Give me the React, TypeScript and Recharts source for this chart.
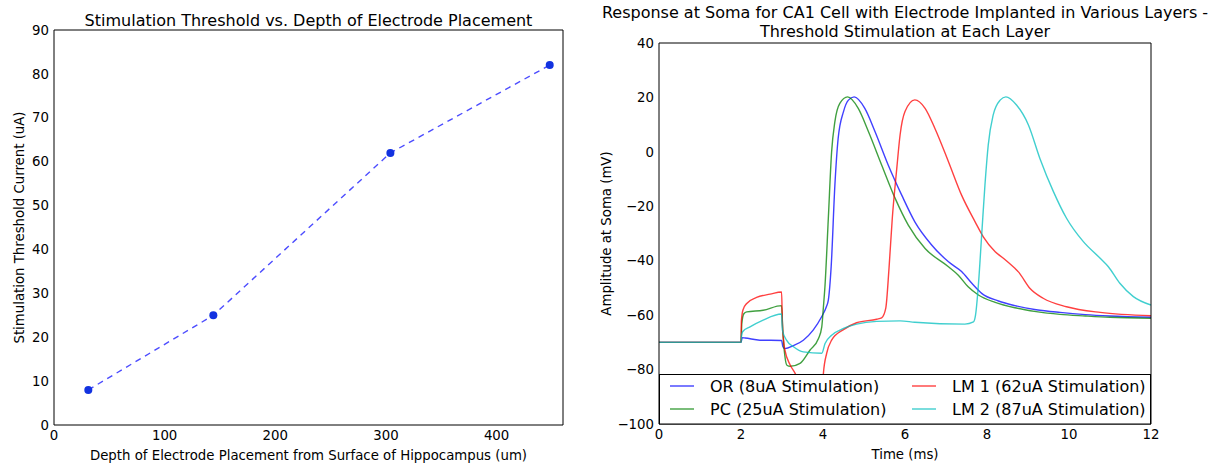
import { LineChart, Line, XAxis, YAxis } from "recharts";

// left panel: threshold vs depth
const depths = [31, 144, 304, 448];
const thresholds = [8, 25, 62, 82];
const depthTicks = [0, 100, 200, 300, 400];
const thresholdTicks = [0, 10, 20, 30, 40, 50, 60, 70, 80, 90];

// right panel: soma traces, [time ms, mV]
const orTrace = [
  [0, -70], [2, -70], [2.03, -68.3], [2.1, -68.4], [2.46, -69.2], [2.99, -69.3], [3.02, -71.5],
  [3.07, -72.3], [3.28, -71.2], [3.52, -69.2], [3.76, -65.5], [3.97, -60.5], [4.08, -57], [4.13, -54.5],
  [4.2, -42], [4.29, -12.2], [4.37, 5], [4.5, 14.8], [4.62, 19], [4.76, 20.2], [5.02, 16], [5.27, 7.4],
  [5.59, -4.8], [5.92, -15.9], [6.24, -25.7], [6.65, -34.2], [7.06, -40.4], [7.38, -44], [7.63, -48.3],
  [7.87, -52], [8.28, -54.8], [8.68, -56.5], [9.2, -58], [9.78, -59], [10.4, -59.8], [11, -60.3], [12, -60.8],
];
const pcTrace = [
  [0, -70], [2, -70], [2.02, -63], [2.07, -59.5], [2.14, -58.8], [2.54, -58.2], [2.99, -56.5], [3.02, -66],
  [3.07, -75], [3.12, -78.4], [3.2, -78.8], [3.44, -77.7], [3.68, -72.9], [3.89, -68.6], [3.97, -64.3],
  [4.01, -57], [4.05, -48.9], [4.13, -24.4], [4.21, 0], [4.29, 11.1], [4.41, 17.8], [4.6, 20.2], [4.86, 16],
  [5.11, 7.4], [5.43, -4.8], [5.76, -17.1], [6.08, -26.9], [6.49, -35.5], [7.06, -42.2], [7.3, -45.3],
  [7.54, -49.6], [7.79, -52.6], [8.2, -55.3], [8.68, -57.3], [9.2, -58.7], [9.78, -59.7], [10.4, -60.3],
  [11, -60.8], [12, -61.2],
];
const lm1Trace = [
  [0, -70], [2, -70], [2.01, -62], [2.05, -58], [2.14, -55.7], [2.38, -53.5], [2.71, -52.3], [2.99, -51.5],
  [3.01, -63], [3.07, -72.8], [3.2, -78.3], [3.32, -81.4], [3.5, -88], [3.7, -92], [3.9, -94], [3.97, -95],
  [4.01, -81.4], [4.09, -74], [4.21, -69.2], [4.5, -65.3], [4.82, -62.8], [5.31, -61.5], [5.43, -61],
  [5.53, -57.5], [5.61, -42.8], [5.69, -24.4], [5.8, -6], [5.88, 6.2], [6.0, 14.8], [6.24, 19.1], [6.49, 16],
  [6.73, 8.6], [7.06, -3.6], [7.38, -15.9], [7.71, -25.7], [7.91, -31.2], [8.2, -36.7], [8.4, -39.1],
  [8.68, -42.8], [8.76, -44], [9.05, -50.2], [9.37, -53.8], [9.94, -56.9], [10.76, -59], [12, -60.2],
];
const lm2Trace = [
  [0, -70], [2, -70], [2.01, -68], [2.04, -66.1], [2.22, -64.3], [2.54, -61.8], [2.99, -59.6], [3.01, -65.5],
  [3.11, -69.2], [3.28, -71.6], [3.52, -73.5], [3.97, -74], [4.05, -70.4], [4.21, -67.4], [4.5, -64.9],
  [4.82, -63.3], [5.31, -62.3], [5.88, -62.1], [6.24, -62.6], [7.46, -63.3], [7.67, -62.5], [7.72, -60],
  [7.79, -48.9], [7.87, -30.6], [7.95, -12.2], [8.03, 2.5], [8.15, 13.5], [8.32, 19], [8.46, 20.2],
  [8.72, 17.2], [9.01, 9.9], [9.29, -2.4], [9.62, -14.6], [9.94, -24.4], [10.35, -33], [10.76, -39.1],
  [10.96, -42.2], [11.24, -48.3], [11.57, -53.2], [12, -56.3],
];
const timeTicks = [0, 2, 4, 6, 8, 10, 12];
const ampTicks = [-100, -80, -60, -40, -20, 0, 20, 40];

const series = [
  { name: "OR (8uA Stimulation)", color: "#0000ff", trace: orTrace },
  { name: "PC (25uA Stimulation)", color: "#008000", trace: pcTrace },
  { name: "LM 1 (62uA Stimulation)", color: "#ff0000", trace: lm1Trace },
  { name: "LM 2 (87uA Stimulation)", color: "#00bfbf", trace: lm2Trace },
];

const font = "'DejaVu Sans', sans-serif";
const tickStyle = { fill: "#000", fontSize: 13.3 };
const labelStyle = { fill: "#000", fontSize: 13.3, textAnchor: "middle" as const };
const minus = (v: number) => String(v).replace("-", "\u2212");

const depthData = depths.map((d, i) => ({ depth: d, current: thresholds[i] }));
const inner = (arr: number[]) => arr.slice(1, -1);

function DepthChart() {
  return (
    <LineChart width={600} height={465} data={depthData} margin={{ top: 30, right: 37, bottom: 0, left: 0 }} style={{ fontFamily: font }}>
      <XAxis dataKey="depth" type="number" domain={[0, 460]} ticks={depthTicks} allowDataOverflow height={40}
        tickLine={false} tickSize={0} tickMargin={6} tick={tickStyle} stroke="#000"
        label={{ value: "Depth of Electrode Placement from Surface of Hippocampus (um)", position: "insideBottom", offset: 5, style: labelStyle }} />
      <XAxis xAxisId="top" orientation="top" mirror type="number" domain={[0, 460]} ticks={depthTicks.slice(1)}
        allowDataOverflow tick={false} tickSize={4} stroke="#000" />
      <XAxis xAxisId="bin" orientation="bottom" mirror type="number" domain={[0, 460]} ticks={depthTicks.slice(1)}
        allowDataOverflow tick={false} tickSize={4} axisLine={false} stroke="#000" />
      <YAxis type="number" domain={[0, 90]} ticks={thresholdTicks} allowDataOverflow width={54}
        tickLine={false} tickSize={0} tickMargin={5} tick={tickStyle} stroke="#000"
        label={{ value: "Stimulation Threshold Current (uA)", angle: -90, position: "insideLeft", offset: 19, style: labelStyle }} />
      <YAxis yAxisId="right" orientation="right" mirror type="number" domain={[0, 90]} ticks={inner(thresholdTicks)}
        allowDataOverflow tick={false} tickSize={4} stroke="#000" />
      <YAxis yAxisId="lin" orientation="left" mirror type="number" domain={[0, 90]} ticks={inner(thresholdTicks)}
        allowDataOverflow tick={false} tickSize={4} axisLine={false} stroke="#000" />
      <Line dataKey="current" type="linear" stroke="#0000ff" strokeOpacity={0.7} strokeWidth={1.4}
        strokeDasharray="6 5" isAnimationActive={false}
        dot={(p: any) => <circle key={p.index} cx={p.cx} cy={p.cy} r={4} fill="#1232e0" />} />
    </LineChart>
  );
}

function SomaChart() {
  return (
    <LineChart width={609} height={465} margin={{ top: 43, right: 58, bottom: 0, left: 0 }} style={{ fontFamily: font }}>
      <XAxis dataKey="t" type="number" domain={[0, 12]} ticks={timeTicks} allowDataOverflow height={41}
        tickLine={false} tickSize={0} tickMargin={6} tick={tickStyle} stroke="#000"
        label={{ value: "Time (ms)", position: "insideBottom", offset: 6, style: labelStyle }} />
      <XAxis xAxisId="top" orientation="top" mirror type="number" domain={[0, 12]} ticks={inner(timeTicks)}
        allowDataOverflow tick={false} tickSize={4} stroke="#000" />
      <YAxis type="number" domain={[-100, 40]} ticks={ampTicks} allowDataOverflow width={59}
        tickLine={false} tickSize={0} tickMargin={5} tick={tickStyle} tickFormatter={minus} stroke="#000"
        label={{ value: "Amplitude at Soma (mV)", angle: -90, position: "insideLeft", offset: 6, style: labelStyle }} />
      <YAxis yAxisId="right" orientation="right" mirror type="number" domain={[-100, 40]} ticks={inner(ampTicks)}
        allowDataOverflow tick={false} tickSize={4} stroke="#000" />
      <YAxis yAxisId="lin" orientation="left" mirror type="number" domain={[-100, 40]} ticks={inner(ampTicks)}
        allowDataOverflow tick={false} tickSize={4} axisLine={false} stroke="#000" />
      {series.map((s) => (
        <Line key={s.name} name={s.name} data={s.trace.map(([t, v]) => ({ t, v }))} dataKey="v" type="monotone"
          stroke={s.color} strokeOpacity={0.75} strokeWidth={1.4} dot={false} isAnimationActive={false} />
      ))}
    </LineChart>
  );
}

function Overlay() {
  return (
    <svg width={1209} height={465} style={{ position: "absolute", left: 0, top: 0, pointerEvents: "none", fontFamily: font }}>
      <text x={308.5} y={26} fontSize={16} textAnchor="middle" fill="#000">
        Stimulation Threshold vs. Depth of Electrode Placement
      </text>
      <text x={905} y={18} fontSize={16} textAnchor="middle" fill="#000">
        Response at Soma for CA1 Cell with Electrode Implanted in Various Layers -
      </text>
      <text x={905} y={37} fontSize={16} textAnchor="middle" fill="#000">
        Threshold Stimulation at Each Layer
      </text>
      <rect x={659.5} y={374.5} width={491} height={49.5} fill="#fff" stroke="#000" strokeWidth={1} />
      {series.map((s, i) => {
        const col = Math.floor(i / 2);
        const row = i % 2;
        const lx = col === 0 ? 670 : 912;
        const ly = row === 0 ? 386 : 409;
        return (
          <g key={s.name}>
            <line x1={lx} x2={lx + 24} y1={ly} y2={ly} stroke={s.color} strokeOpacity={0.75} strokeWidth={1.4} />
            <text x={lx + 40} y={ly + 5.8} fontSize={16} fill="#000">{s.name}</text>
          </g>
        );
      })}
    </svg>
  );
}

export default function App() {
  return (
    <div style={{ position: "absolute", left: 0, top: 0, width: 1209, height: 465, background: "#fff" }}>
      <div style={{ position: "absolute", left: 0, top: 0 }}>
        <DepthChart />
      </div>
      <div style={{ position: "absolute", left: 600, top: 0 }}>
        <SomaChart />
      </div>
      <Overlay />
    </div>
  );
}
